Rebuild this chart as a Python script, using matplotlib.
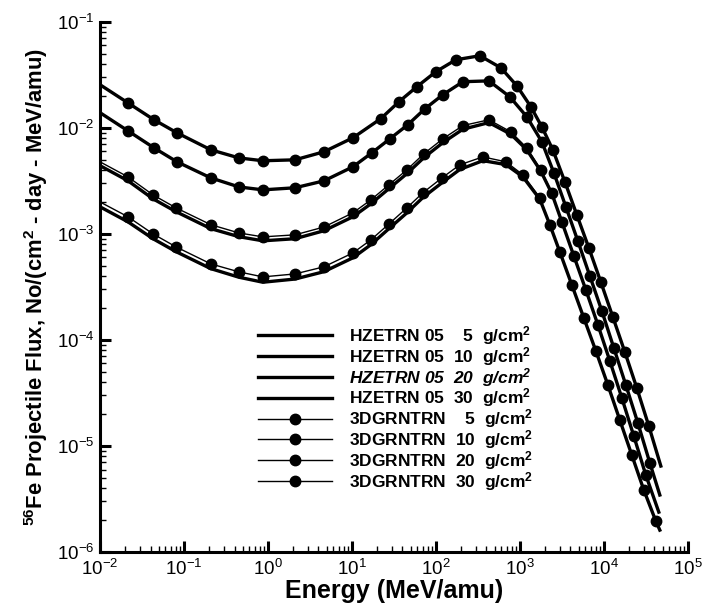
import matplotlib
matplotlib.use("Agg")
import matplotlib.pyplot as plt

plt.rcParams["font.family"] = ["Liberation Sans", "DejaVu Sans"]
plt.rcParams["mathtext.fontset"] = "custom"
plt.rcParams["mathtext.rm"] = "Liberation Sans"
plt.rcParams["mathtext.bf"] = "Liberation Sans:bold"
plt.rcParams["mathtext.it"] = "Liberation Sans:italic"
plt.rcParams["mathtext.default"] = "regular"

# energies (MeV/amu) and flux for each depth
e5 = [0.01, 0.0215, 0.044, 0.0826, 0.209, 0.452, 0.871, 2.10, 4.64, 10.3, 22.1, 36.3,
      59.4, 100, 173, 334, 594, 921, 1352, 1828, 2471, 3434, 4771, 6627, 9204,
      12790, 17780, 24710, 34360, 47730]
f5 = [2.55e-2, 1.72e-2, 1.19e-2, 8.97e-3, 6.2e-3, 5.2e-3, 4.89e-3, 4.99e-3, 5.94e-3,
      8.05e-3, 1.22e-2, 1.76e-2, 2.44e-2, 3.38e-2, 4.38e-2, 4.78e-2, 3.68e-2, 2.49e-2,
      1.58e-2, 1.02e-2, 6.2e-3, 3.10e-3, 1.51e-3, 7.38e-4, 3.52e-4, 1.65e-4, 7.71e-5,
      3.52e-5, 1.54e-5, 6.47e-6]

e10 = [0.01, 0.0215, 0.044, 0.0826, 0.209, 0.452, 0.871, 2.10, 4.64, 10.3, 17.3, 28.3,
       46.4, 74.0, 121, 210, 428, 760, 1211, 1828, 2541, 3532, 4898, 6808, 9462,
       13150, 18280, 25410, 35320, 46420]
f10 = [1.39e-2, 9.37e-3, 6.47e-3, 4.78e-3, 3.37e-3, 2.77e-3, 2.60e-3, 2.72e-3, 3.16e-3,
       4.29e-3, 5.81e-3, 7.87e-3, 1.07e-2, 1.51e-2, 2.05e-2, 2.72e-2, 2.77e-2, 1.96e-2,
       1.27e-2, 7.38e-3, 3.76e-3, 1.80e-3, 8.59e-4, 4.02e-4, 1.88e-4, 8.41e-5, 3.76e-5,
       1.65e-5, 6.92e-6, 3.45e-6]

e20 = [0.01, 0.0215, 0.0428, 0.0804, 0.209, 0.452, 0.871, 2.10, 4.64, 10.3, 16.8, 27.6,
       45.2, 71.9, 121, 210, 428, 781, 1211, 1778, 2404, 3162, 4395, 6109, 8492,
       11790, 16380, 22750, 31620, 45150]
f20 = [4.78e-3, 3.45e-3, 2.33e-3, 1.76e-3, 1.22e-3, 1.02e-3, 9.37e-4, 9.79e-4, 1.16e-3,
       1.58e-3, 2.09e-3, 2.90e-3, 4.02e-3, 5.69e-3, 7.87e-3, 1.05e-2, 1.19e-2, 9.16e-3,
       6.47e-3, 4.02e-3, 2.44e-3, 1.30e-3, 6.19e-4, 2.96e-4, 1.39e-4, 6.34e-5, 2.84e-5,
       1.24e-5, 5.32e-6, 2.38e-6]
h20 = [4.40e-3, 3.17e-3, 2.14e-3, 1.62e-3, 1.12e-3, 9.40e-4, 8.60e-4, 9.00e-4, 1.07e-3,
       1.45e-3, 1.92e-3, 2.67e-3, 3.70e-3, 5.23e-3, 7.24e-3, 9.70e-3, 1.12e-2, 8.70e-3,
       6.20e-3, 3.90e-3, 2.40e-3, 1.30e-3, 6.19e-4, 2.96e-4, 1.39e-4, 6.34e-5, 2.84e-5,
       1.24e-5, 5.32e-6, 2.38e-6]

e30 = [0.01, 0.0215, 0.0428, 0.0804, 0.209, 0.452, 0.871, 2.10, 4.64, 10.3, 16.8, 27.6,
       45.2, 70.0, 118, 193, 363, 681, 1086, 1730, 2275, 2992, 4159, 5781, 8035,
       11170, 15490, 21530, 29920, 41590, 46420]
f30 = [2.0e-3, 1.45e-3, 1.0e-3, 7.54e-4, 5.21e-4, 4.38e-4, 3.93e-4, 4.19e-4, 4.89e-4,
       6.62e-4, 8.77e-4, 1.24e-3, 1.76e-3, 2.44e-3, 3.37e-3, 4.48e-3, 5.32e-3, 4.78e-3,
       3.61e-3, 2.19e-3, 1.22e-3, 6.76e-4, 3.30e-4, 1.61e-4, 7.88e-5, 3.76e-5, 1.76e-5,
       8.22e-6, 3.85e-6, 1.96e-6, 1.61e-6]
h30 = [1.80e-3, 1.30e-3, 9.00e-4, 6.80e-4, 4.70e-4, 3.90e-4, 3.50e-4, 3.75e-4, 4.40e-4,
       5.95e-4, 7.90e-4, 1.12e-3, 1.58e-3, 2.20e-3, 3.03e-3, 4.05e-3, 4.90e-3, 4.50e-3,
       3.45e-3, 2.12e-3, 1.22e-3, 6.76e-4, 3.30e-4, 1.61e-4, 7.88e-5, 3.76e-5, 1.76e-5,
       8.22e-6, 3.85e-6, 1.96e-6, 1.61e-6]

hz_lbl = ["HZETRN 05    5  g/cm$^2$", "HZETRN 05  10  g/cm$^2$",
          "HZETRN 05  20  g/cm$^2$", "HZETRN 05  30  g/cm$^2$"]
gr_lbl = ["3DGRNTRN    5  g/cm$^2$", "3DGRNTRN  10  g/cm$^2$",
          "3DGRNTRN  20  g/cm$^2$", "3DGRNTRN  30  g/cm$^2$"]

fig = plt.figure(figsize=(7.04, 6.04), dpi=100)
ax = fig.add_axes([0.142, 0.086, 0.835, 0.878])

hz = [(e5, f5), (e10, f10), (e20, h20), (e30, h30)]
gr = [(e5, f5), (e10, f10), (e20, f20), (e30, f30)]

for i in range(4):
    ax.plot(hz[i][0], hz[i][1], color="black", lw=2.4, label=hz_lbl[i], zorder=2)
for i in range(4):
    ax.plot(gr[i][0], gr[i][1], color="black", lw=1.0, marker="o", ms=7.5,
            markevery=slice(1, len(gr[i][0]) - 1), label=gr_lbl[i], zorder=3)

ax.set_xscale("log")
ax.set_yscale("log")
ax.set_xlim(1e-2, 1e5)
ax.set_ylim(1e-6, 1e-1)

for s in ["top", "right"]:
    ax.spines[s].set_visible(False)
for s in ["left", "bottom"]:
    ax.spines[s].set_linewidth(2.2)

ax.tick_params(which="major", direction="in", length=8, width=2.2, labelsize=13.5, pad=4)
ax.tick_params(which="minor", direction="in", length=4.5, width=1.0)
ax.tick_params(axis="x", which="major", pad=5)

ax.set_xlabel("Energy (MeV/amu)", fontsize=18, fontweight="bold", labelpad=0)
ax.set_ylabel(r"$^{\mathbf{56}}$Fe Projectile Flux, No/(cm$^{\mathbf{2}}$ - day - MeV/amu)",
              fontsize=15.8, fontweight="bold", labelpad=5)

leg = ax.legend(loc="upper left", bbox_to_anchor=(0.245, 0.456), frameon=False,
                handlelength=4.27, handletextpad=1.0, numpoints=1, labelspacing=-0.12,
                borderpad=0.3, prop={"weight": "bold", "size": 12.5})
leg.get_texts()[2].set_style("italic")

fig.savefig("out.png", dpi=100)
